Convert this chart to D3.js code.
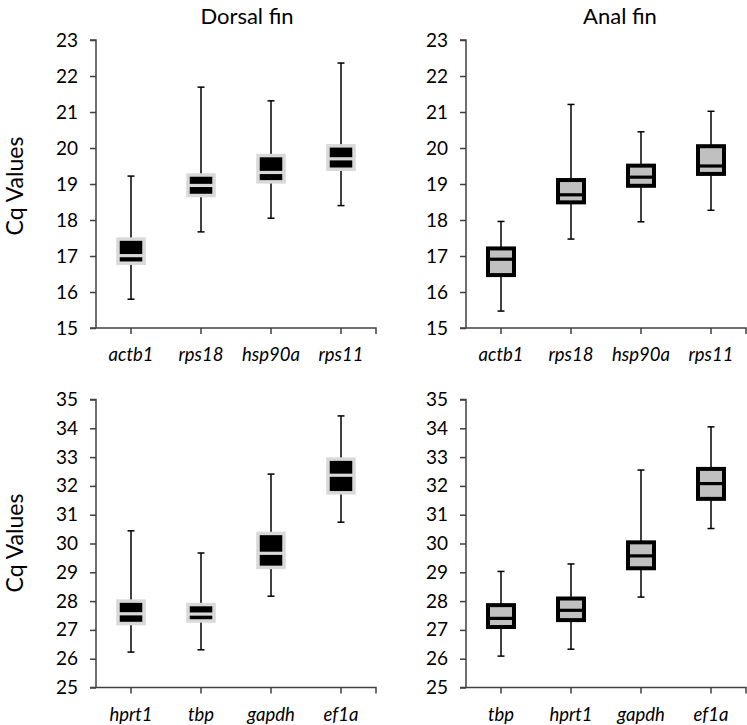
<!DOCTYPE html>
<html>
<head>
<meta charset="utf-8">
<script src="https://cdn.jsdelivr.net/npm/d3@7"></script>
<style>
  html, body { margin: 0; padding: 0; background: #fff; }
  text { font-family: Lato, "Open Sans", sans-serif; fill: #000; }
</style>
</head>
<body>
<svg id="chart" width="747" height="725"></svg>
<script>
// ---- Data: [min, q1, median, q3, max] per gene ----
const dorsalTopGenes = ["actb1", "rps18", "hsp90a", "rps11"];
const dorsalTopStats = [
  [15.80, 16.80, 17.01, 17.47, 19.22],
  [17.67, 18.68, 18.96, 19.25, 21.69],
  [18.05, 19.06, 19.32, 19.79, 21.31],
  [18.40, 19.41, 19.70, 20.06, 22.36]
];
const analTopGenes = ["actb1", "rps18", "hsp90a", "rps11"];
const analTopStats = [
  [15.47, 16.47, 16.91, 17.21, 17.96],
  [17.47, 18.49, 18.70, 19.11, 21.21],
  [17.95, 18.95, 19.19, 19.51, 20.45],
  [18.27, 19.28, 19.50, 20.05, 21.02]
];
const dorsalBottomGenes = ["hprt1", "tbp", "gapdh", "ef1a"];
const dorsalBottomStats = [
  [26.23, 27.22, 27.56, 28.00, 30.44],
  [26.31, 27.31, 27.55, 27.88, 29.67],
  [28.17, 29.17, 29.66, 30.35, 32.41],
  [30.74, 31.76, 32.37, 32.93, 34.43]
];
const analBottomGenes = ["tbp", "hprt1", "gapdh", "ef1a"];
const analBottomStats = [
  [26.09, 27.10, 27.40, 27.86, 29.03],
  [26.33, 27.34, 27.68, 28.09, 29.29],
  [28.14, 29.14, 29.57, 30.04, 32.55],
  [30.52, 31.55, 32.08, 32.59, 34.05]
];
const topDomain = [15, 23];
const bottomDomain = [25, 35];
const panelTitles = ["Dorsal fin", "Anal fin"];
const yAxisTitle = "Cq Values";

// ---- Styles ----
const dorsalStyle = { fill: "#000000", stroke: "#d9d9d9", strokeWidth: 3.5, median: "#d9d9d9", medianWidth: 3.2 };
const analStyle   = { fill: "#c0c0c0", stroke: "#000000", strokeWidth: 4,   median: "#000000", medianWidth: 3.2 };

const svg = d3.select("#chart");

const panels = [
  { genes: dorsalTopGenes,    stats: dorsalTopStats,    domain: topDomain,    left: 96,  top: 40,  bottom: 328, style: dorsalStyle },
  { genes: analTopGenes,      stats: analTopStats,      domain: topDomain,    left: 466, top: 40,  bottom: 328, style: analStyle },
  { genes: dorsalBottomGenes, stats: dorsalBottomStats, domain: bottomDomain, left: 96,  top: 399.5, bottom: 687.5, style: dorsalStyle },
  { genes: analBottomGenes,   stats: analBottomStats,   domain: bottomDomain, left: 466, top: 399.5, bottom: 687.5, style: analStyle }
];

const axisColor = "#404040";

panels.forEach(p => {
  const x = d3.scaleBand().domain(p.genes).range([p.left, p.left + 280]);
  const y = d3.scaleLinear().domain(p.domain).range([p.bottom, p.top]);
  const g = svg.append("g");

  // Y axis
  const yAxis = d3.axisLeft(y).ticks(p.domain[1] - p.domain[0]).tickSize(6).tickPadding(12);
  const ya = g.append("g").attr("transform", `translate(${p.left},0)`).call(yAxis);
  ya.select(".domain").attr("stroke", axisColor).attr("stroke-width", 1.5).attr("d", `M-6,${p.top}H0V${p.bottom}`);
  ya.selectAll(".tick line").attr("stroke", axisColor).attr("stroke-width", 1.5);
  ya.selectAll(".tick text").style("font-size", "19px").style("font-family", "Lato, sans-serif").attr("fill", "#000");

  // X axis
  const xAxis = d3.axisBottom(x).tickSize(6).tickPadding(14).tickSizeOuter(6);
  const xa = g.append("g").attr("transform", `translate(0,${p.bottom})`).call(xAxis);
  xa.select(".domain").attr("stroke", axisColor).attr("stroke-width", 1.5)
    .attr("d", `M${p.left - 6},0H${p.left + 280}V6`);
  xa.selectAll(".tick line").attr("stroke", axisColor).attr("stroke-width", 1.5);
  xa.selectAll(".tick text").style("font-size", "18.5px").style("font-style", "italic")
    .style("font-family", "Lato, sans-serif").attr("fill", "#000");

  const bw = 26;
  const capW = 7;
  const boxes = g.selectAll(".bx").data(p.genes.map((gene, i) => ({ gene, s: p.stats[i] })))
    .enter().append("g").attr("class", "bx");

  // whiskers
  boxes.append("line")
    .attr("x1", d => x(d.gene) + x.bandwidth() / 2).attr("x2", d => x(d.gene) + x.bandwidth() / 2)
    .attr("y1", d => y(d.s[0])).attr("y2", d => y(d.s[4]))
    .attr("stroke", "#000").attr("stroke-width", 1.5);
  boxes.append("line")
    .attr("x1", d => x(d.gene) + x.bandwidth() / 2 - capW / 2).attr("x2", d => x(d.gene) + x.bandwidth() / 2 + capW / 2)
    .attr("y1", d => y(d.s[0])).attr("y2", d => y(d.s[0]))
    .attr("stroke", "#000").attr("stroke-width", 1.5);
  boxes.append("line")
    .attr("x1", d => x(d.gene) + x.bandwidth() / 2 - capW / 2).attr("x2", d => x(d.gene) + x.bandwidth() / 2 + capW / 2)
    .attr("y1", d => y(d.s[4])).attr("y2", d => y(d.s[4]))
    .attr("stroke", "#000").attr("stroke-width", 1.5);

  // box
  boxes.append("rect")
    .attr("x", d => x(d.gene) + x.bandwidth() / 2 - bw / 2)
    .attr("width", bw)
    .attr("y", d => y(d.s[3]))
    .attr("height", d => y(d.s[1]) - y(d.s[3]))
    .attr("fill", p.style.fill)
    .attr("stroke", p.style.stroke)
    .attr("stroke-width", p.style.strokeWidth);

  // median
  boxes.append("line")
    .attr("x1", d => x(d.gene) + x.bandwidth() / 2 - bw / 2).attr("x2", d => x(d.gene) + x.bandwidth() / 2 + bw / 2)
    .attr("y1", d => y(d.s[2])).attr("y2", d => y(d.s[2]))
    .attr("stroke", p.style.median).attr("stroke-width", p.style.medianWidth);
});

// Titles
svg.append("text").attr("x", 247).attr("y", 24).attr("text-anchor", "middle")
  .style("font-size", "22px").text(panelTitles[0]);
svg.append("text").attr("x", 620).attr("y", 24).attr("text-anchor", "middle")
  .style("font-size", "22px").text(panelTitles[1]);

// Y axis titles
[186, 543].forEach(cy => {
  svg.append("text")
    .attr("transform", `translate(23,${cy}) rotate(-90)`)
    .attr("text-anchor", "middle")
    .style("font-size", "23px")
    .text(yAxisTitle);
});
</script>
</body>
</html>
